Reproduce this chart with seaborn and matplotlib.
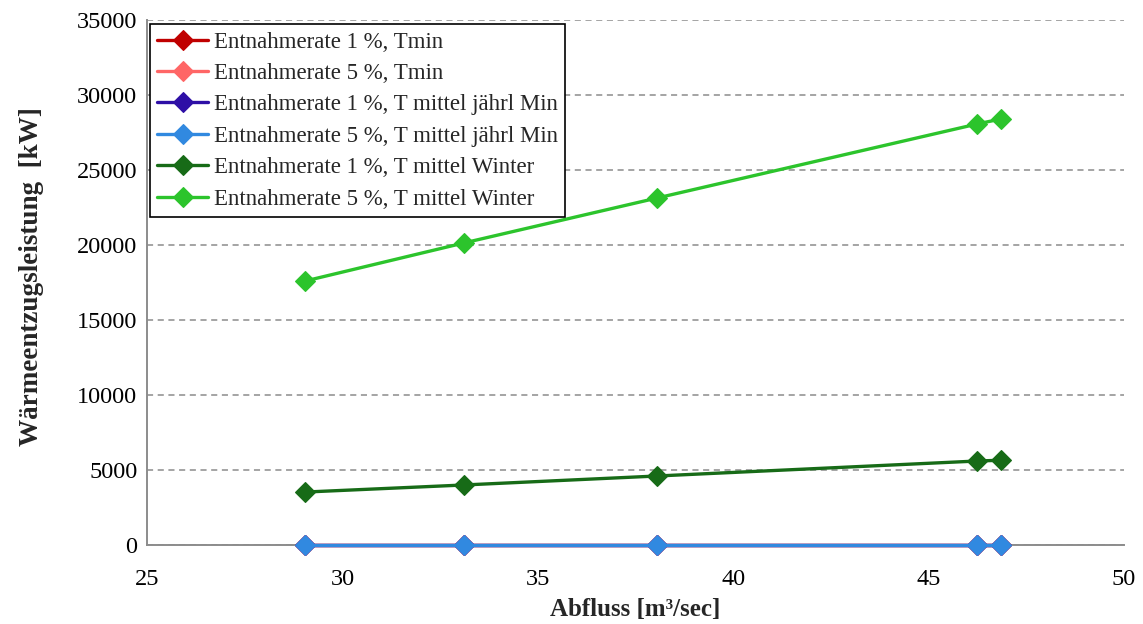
import pandas as pd
import numpy as np
import matplotlib.pyplot as plt
import seaborn as sns

# Abfluss [m3/sec]
abfluss = [29.05, 33.1, 38.05, 46.25, 46.85]

labels = [
    "Entnahmerate 1 %, Tmin",
    "Entnahmerate 5 %, Tmin",
    "Entnahmerate 1 %, T mittel jährl Min",
    "Entnahmerate 5 %, T mittel jährl Min",
    "Entnahmerate 1 %, T mittel Winter",
    "Entnahmerate 5 %, T mittel Winter",
]
colors = ["#C00000", "#FF6666", "#2E0FA6", "#3189E0", "#176B17", "#2CC42C"]

tmin_1 = [0, 0, 0, 0, 0]
tmin_5 = [0, 0, 0, 0, 0]
jaehrl_1 = [0, 0, 0, 0, 0]
jaehrl_5 = [0, 0, 0, 0, 0]
winter_1 = [3530, 4000, 4600, 5600, 5650]
winter_5 = [17600, 20130, 23130, 28070, 28400]
series = [tmin_1, tmin_5, jaehrl_1, jaehrl_5, winter_1, winter_5]

sns.set_style("white")
plt.rcParams["font.family"] = ["Liberation Serif", "DejaVu Serif"]

fig = plt.figure(figsize=(11.43, 6.24), dpi=100)
ax = fig.add_axes([0.1286, 0.1266, 0.8548, 0.8414])

for lab, col, vals in zip(labels, colors, series):
    df = pd.DataFrame({"Abfluss": abfluss, "Leistung": vals})
    sns.lineplot(x="Abfluss", y="Leistung", data=df, ax=ax, color=col,
                 marker="D", markersize=10, markeredgecolor=col,
                 markeredgewidth=0.8, linewidth=2.4, label=lab,
                 clip_on=False, zorder=3)

ax.set_xlim(25, 50)
ax.set_ylim(0, 35000)
ax.set_xticks(np.arange(25, 51, 5))
ax.set_yticks(np.arange(0, 35001, 5000))
ax.yaxis.grid(True, color="#8c8c8c", linestyle=(0, (4, 3)), linewidth=1.1)
ax.set_axisbelow(True)
for s in ["top", "right"]:
    ax.spines[s].set_visible(False)
for s in ["left", "bottom"]:
    ax.spines[s].set_color("#8c8c8c")
    ax.spines[s].set_linewidth(1.4)
ax.tick_params(axis="both", direction="out", length=6, color="#8c8c8c",
               width=1.2, labelsize=17.5, colors="black")
ax.tick_params(axis="x", pad=11)
ax.tick_params(axis="y", pad=1)
for lbl in ax.get_xticklabels() + ax.get_yticklabels():
    lbl.set_color("black")

ax.set_xlabel("Abfluss [m³/sec]", fontsize=18, fontweight="bold", labelpad=6)
ax.set_ylabel("Wärmeentzugsleistung  [kW]", fontsize=19.5, fontweight="bold",
              va="center")
ax.yaxis.set_label_coords(-0.118, 0.512)

leg = ax.legend(loc="upper left", bbox_to_anchor=(0.003, 0.992), fontsize=16.5,
                frameon=True, fancybox=False, edgecolor="black", framealpha=1,
                handlelength=2.2, labelspacing=0.45, borderpad=0.33,
                handletextpad=0.25, borderaxespad=0.0)
leg.get_frame().set_linewidth(1.2)
leg.set_zorder(5)

fig.savefig("out.png", dpi=100)
